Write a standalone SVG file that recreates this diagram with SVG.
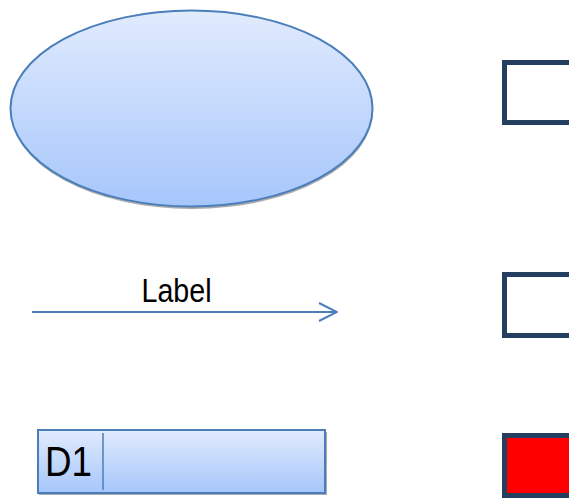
<svg xmlns="http://www.w3.org/2000/svg" width="569" height="498" viewBox="0 0 569 498">
<style>
.shape{stroke:#4a7ebb;stroke-width:2}
.sq{stroke:#243f60;stroke-width:5}
.txt{font-family:"Liberation Sans",Arial,sans-serif;fill:#000}
</style>
<defs>
<linearGradient id="g" x1="0" y1="0" x2="0" y2="1">
<stop offset="0" stop-color="#e1ebfd"/>
<stop offset="1" stop-color="#a6c6fb"/>
</linearGradient>
<marker id="arr" viewBox="0 0 20 20" refX="19" refY="10" markerWidth="20" markerHeight="20" markerUnits="userSpaceOnUse" orient="auto">
<path d="M1,1 L19,10 L1,19" fill="none" stroke="#4a7ebb" stroke-width="2"/>
</marker>
</defs>
<g id="ellipse">
<ellipse cx="192" cy="111" rx="181" ry="98" fill="#888" opacity="0.7"/>
<ellipse class="shape" cx="191.5" cy="108.5" rx="181" ry="98" fill="url(#g)"/>
</g>
<g id="square1"><rect class="sq" x="504.5" y="62.5" width="70" height="60" fill="#fff"/></g>
<g id="square2"><rect class="sq" x="504.5" y="274.5" width="70" height="61" fill="#fff"/></g>
<g id="square3"><rect class="sq" x="504.5" y="435.5" width="70" height="60" fill="#f00"/></g>
<g id="connectors">
<line x1="32" y1="312" x2="337" y2="312" stroke="#4a7ebb" stroke-width="2" marker-end="url(#arr)"/>
<text class="txt" x="141.5" y="302" font-size="33" textLength="70" lengthAdjust="spacingAndGlyphs">Label</text>
</g>
<g id="d1">
<rect x="39" y="432" width="288" height="63" fill="#888" opacity="0.7"/>
<rect class="shape" x="38" y="430" width="287" height="63" fill="url(#g)"/>
<line x1="103" y1="433" x2="103" y2="490" stroke="#4a7ebb" stroke-width="1.5"/>
<text class="txt" x="45" y="475.5" font-size="43" textLength="47" lengthAdjust="spacingAndGlyphs">D1</text>
</g>
</svg>
